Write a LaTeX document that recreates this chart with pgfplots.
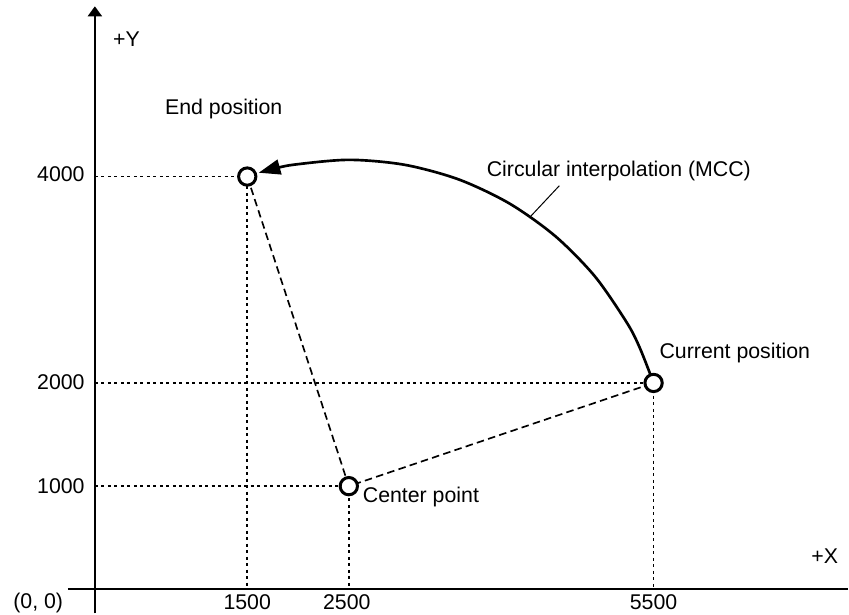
\documentclass[border=0pt]{standalone}
\usepackage{pgfplots}
\pgfplotsset{compat=1.18}
\usepackage{fontspec}
\setmainfont{Liberation Sans}
\usetikzlibrary{arrows.meta}

% end position, center point, current position
\pgfplotstableread{
x y
1500 4000
2500 1000
5500 2000
}\pts

\begin{document}
\fontsize{12.8}{15}\selectfont
\begin{tikzpicture}
\begin{axis}[
    scale only axis,
    width=509.4pt, height=368.4pt,
    xmin=-934, xmax=7414,
    ymin=-232, ymax=5711,
    hide axis,
    clip=false,
    dotline/.style={black, line width=1.1pt, dash pattern=on 1.8pt off 2.1pt},
    dashline/.style={black, line width=1pt, dash pattern=on 4.5pt off 2.6pt},
]
% axes
\addplot[black, line width=1.2pt] coordinates {(-265,0) (7414,0)};
\addplot[black, line width=1.2pt, -{Triangle[length=6pt,width=8.4pt]}] coordinates {(0,-232) (0,5650)};

% dotted guides
\addplot[dotline] coordinates {(0,4000) (1500,4000) (1500,0)};
\addplot[dotline] coordinates {(0,2000) (5500,2000) (5500,0)};
\addplot[dotline] coordinates {(0,1000) (2500,1000) (2500,0)};

% dashed radii
\addplot[dashline] coordinates {(1500,4000) (2500,1000) (5500,2000)};

% circular interpolation arc
\addplot[black, line width=1.6pt, smooth, -{Triangle[length=13pt,width=9pt]}] coordinates {
(5500,2000) (5366,2336) (5239,2581) (4922,3033) (4533,3422) (4081,3739)
(3582,3972) (3049,4114) (2500,4162) (1951,4114) (1735,4068) (1613,4037)};

% leader line
\addplot[black, line width=0.6pt] coordinates {(4277,3601) (4572,3911)};

% markers
\addplot[only marks, mark=*, mark size=5.2pt, mark options={fill=white, draw=black, line width=1.8pt}] table {\pts};

% labels
\node[anchor=base west, inner sep=0pt] at (axis cs:177,5256) {+Y};
\node[anchor=base west, inner sep=0pt] at (axis cs:7050,252) {+X};
\node[anchor=base west, inner sep=0pt] at (axis cs:-806,-184) {(0, 0)};
\node[anchor=base east, inner sep=0pt] at (axis cs:-98,3949) {4000};
\node[anchor=base east, inner sep=0pt] at (axis cs:-98,1936) {2000};
\node[anchor=base east, inner sep=0pt] at (axis cs:-98,929) {1000};
\node[anchor=base, inner sep=0pt] at (axis cs:1500,-194) {1500};
\node[anchor=base, inner sep=0pt] at (axis cs:2480,-194) {2500};
\node[anchor=base, inner sep=0pt] at (axis cs:5500,-194) {5500};
\node[anchor=base west, inner sep=0pt] at (axis cs:688,4598) {End position};
\node[anchor=base west, inner sep=0pt] at (axis cs:3855,3998) {Circular interpolation (MCC)};
\node[anchor=base west, inner sep=0pt] at (axis cs:5556,2236) {Current position};
\node[anchor=base west, inner sep=0pt] at (axis cs:2635,842) {Center point};

\path (rel axis cs:0,0) rectangle (rel axis cs:1,1);
\end{axis}
\end{tikzpicture}
\end{document}
